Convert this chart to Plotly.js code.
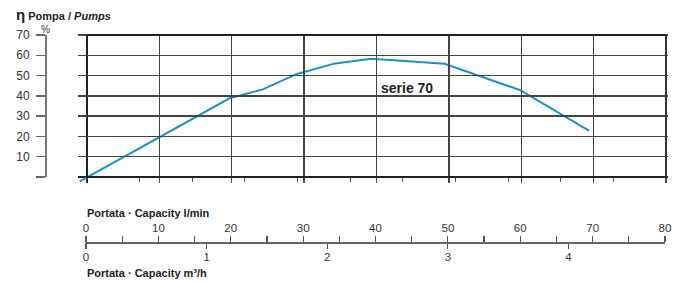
<!DOCTYPE html>
<html>
<head>
<meta charset="utf-8">
<script src="https://cdn.plot.ly/plotly-3.0.1.min.js"></script>
<style>html,body{margin:0;padding:0;background:#fff;}#chart{width:674px;height:283px;}</style>
</head>
<body>
<div id="chart"></div>
<script>
// ---- data ----
const flowLmin = [-1, 19.7, 24.3, 29.0, 34.3, 39.3, 49.4, 59.8, 69.4];
const efficiency = [-2.2, 38.8, 43.2, 50.8, 56.0, 58.3, 55.8, 42.9, 22.7];
const seriesLabel = "serie 70";
const effTicks = [0, 10, 20, 30, 40, 50, 60, 70];
const effTickText = ["", "10", "20", "30", "40", "50", "60", "70"];
const lminTicks = [0,5,10,15,20,25,30,35,40,45,50,55,60,65,70,75,80];
const lminTickText = ["0","","10","","20","","30","","40","","50","","60","","70","","80"];
const m3hTicks = [0, 1, 2, 3, 4];
const m3hTickText = ["0", "1", "2", "3", "4"];
const plotTicks = [1,2,3,4,5,6,7,8,9,10,11];

// ---- geometry (pixels) ----
const W = 674, H = 283;
const x0px = 87, x80px = 666;
const y0px = 177, y70px = 35;
const ppx = (x80px - x0px) / 80;
const ppy = (y0px - y70px) / 70;
const xr = [-1.3, 80.3], yr = [-3, 70.5];
const xdom = [(x0px + xr[0]*ppx)/W, (x0px + xr[1]*ppx)/W];
const ydom = [(H - (y0px - yr[0]*ppy))/H, (H - (y0px - yr[1]*ppy))/H];
const bottomAxisY = (H - 242.3)/H;
const font = "Liberation Sans, Arial, Helvetica, sans-serif";

const traces = [
  {x: flowLmin, y: efficiency, type: "scatter", mode: "lines",
   line: {color: "#1a93c4", width: 2}, xaxis: "x", yaxis: "y", hoverinfo: "skip"},
  {x: [null], y: [null], xaxis: "x", yaxis: "y2", showlegend: false, hoverinfo: "skip"},
  {x: [null], y: [null], xaxis: "x2", yaxis: "y", showlegend: false, hoverinfo: "skip"},
  {x: [null], y: [null], xaxis: "x3", yaxis: "y", showlegend: false, hoverinfo: "skip"},
  {x: [null], y: [null], xaxis: "x4", yaxis: "y", showlegend: false, hoverinfo: "skip"}
];

const layout = {
  width: W, height: H,
  margin: {l: 0, r: 0, t: 0, b: 0, autoexpand: false},
  paper_bgcolor: "#fff", plot_bgcolor: "rgba(0,0,0,0)",
  showlegend: false,
  font: {family: font, color: "#333", size: 11},
  title: {
    text: '<b><span style="font-size:15px">η</span> Pompa / <i>Pumps</i></b>',
    x: 16/W, xanchor: "left", xref: "paper",
    y: 1 - 16/H, yanchor: "middle", yref: "container",
    font: {family: font, size: 11, color: "#222"}
  },
  xaxis: {
    domain: xdom, range: xr, anchor: "y",
    tickvals: [0,10,20,30,40,50,60,70,80], showticklabels: false, ticks: "",
    showgrid: true, gridcolor: "#444", gridwidth: 1.3,
    zeroline: true, zerolinecolor: "#222", zerolinewidth: 1.8,
    showline: false, fixedrange: true
  },
  yaxis: {
    domain: ydom, range: yr, anchor: "x",
    tickvals: [10,20,30,40,50,60,70], showticklabels: false, ticks: "",
    showgrid: true, gridcolor: "#444", gridwidth: 1.3,
    zeroline: true, zerolinecolor: "#222", zerolinewidth: 1.8,
    showline: false, fixedrange: true
  },
  yaxis2: {
    domain: [(H - y0px)/H, (H - y70px)/H], range: [0, 70],
    anchor: "free", position: 45/W, side: "left",
    tickvals: effTicks, ticktext: effTickText,
    ticks: "outside", ticklen: 9, tickcolor: "#666", tickwidth: 1.3,
    ticklabelstandoff: 4,
    showline: true, linecolor: "#777", linewidth: 1.5,
    showgrid: false, zeroline: false,
    tickfont: {family: font, size: 12, color: "#333"}, fixedrange: true
  },
  xaxis2: {
    domain: [86/W, 665/W], range: [0, 80],
    anchor: "free", position: bottomAxisY, side: "top",
    tickvals: lminTicks, ticktext: lminTickText,
    ticks: "outside", ticklen: 6, tickcolor: "#555", tickwidth: 1.2,
    showline: true, linecolor: "#666", linewidth: 1.3,
    showgrid: false, zeroline: false,
    tickfont: {family: font, size: 11.5, color: "#333"}, fixedrange: true
  },
  xaxis3: {
    overlaying: "x2", range: [0, 80/16.6667],
    anchor: "free", position: bottomAxisY, side: "bottom",
    tickvals: m3hTicks, ticktext: m3hTickText,
    ticks: "outside", ticklen: 6, tickcolor: "#555", tickwidth: 1.2,
    ticklabelstandoff: -2,
    showline: false, showgrid: false, zeroline: false,
    tickfont: {family: font, size: 11.5, color: "#333"}, fixedrange: true
  },
  xaxis4: {
    domain: [x0px/W, x80px/W], range: [0, 11],
    anchor: "free", position: (H - y0px)/H, side: "bottom",
    tickvals: plotTicks, showticklabels: false,
    ticks: "outside", ticklen: 4, tickcolor: "#555", tickwidth: 1,
    showline: false, showgrid: false, zeroline: false, fixedrange: true
  },
  annotations: [
    {text: "%", xref: "paper", yref: "paper", x: 45.5/W, y: 1 - 29/H,
     xanchor: "center", yanchor: "middle", showarrow: false,
     font: {family: font, size: 10, color: "#333"}},
    {text: "<b>" + seriesLabel + "</b>", xref: "x", yref: "y", x: 44.2, y: 43.8,
     xanchor: "center", yanchor: "middle", showarrow: false,
     font: {family: font, size: 14, color: "#222"}},
    {text: "<b>Portata · Capacity l/min</b>", xref: "paper", yref: "paper",
     x: 85/W, y: 1 - 212.7/H, xanchor: "left", yanchor: "middle", showarrow: false,
     font: {family: font, size: 11, color: "#222"}},
    {text: "<b>Portata · Capacity m³/h</b>", xref: "paper", yref: "paper",
     x: 85/W, y: 1 - 272.7/H, xanchor: "left", yanchor: "middle", showarrow: false,
     font: {family: font, size: 11, color: "#222"}}
  ],
  shapes: [
    {type: "line", xref: "x", yref: "y", x0: 0, x1: 80, y0: 70, y1: 70,
     line: {color: "#222", width: 1.8}},
    {type: "line", xref: "x", yref: "y", x0: 80, x1: 80, y0: 0, y1: 70,
     line: {color: "#333", width: 1.8}}
  ]
};

Plotly.newPlot("chart", traces, layout, {staticPlot: true, displayModeBar: false});
</script>
</body>
</html>
